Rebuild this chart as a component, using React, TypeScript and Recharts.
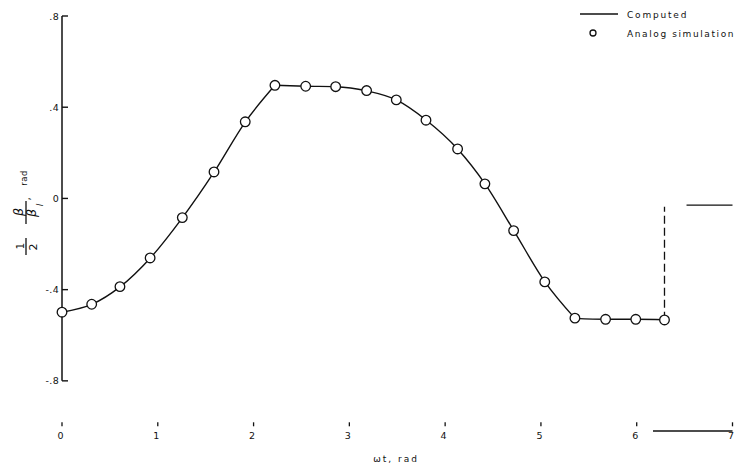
import React from 'react';
import { ComposedChart, Line, Scatter, XAxis, YAxis, Legend, Label } from 'recharts';

// ωt, rad
const wtValues = [0, 0.31, 0.605, 0.92, 1.256, 1.587, 1.913, 2.223, 2.544, 2.857, 3.18, 3.49, 3.8, 4.13, 4.415, 4.715, 5.04, 5.355, 5.675, 5.99, 6.29];
// Analog simulation (circles)
const analogValues = [-0.499, -0.464, -0.387, -0.261, -0.084, 0.116, 0.336, 0.496, 0.492, 0.49, 0.473, 0.432, 0.343, 0.217, 0.064, -0.141, -0.366, -0.525, -0.53, -0.53, -0.533];
// Computed curve, in its three smooth pieces (rise, fall, low dwell)
const riseX = [0, 0.31, 0.605, 0.92, 1.256, 1.587, 1.913, 2.223];
const riseY = [-0.499, -0.465, -0.388, -0.262, -0.085, 0.115, 0.335, 0.496];
const fallX = [2.223, 2.544, 2.857, 3.18, 3.49, 3.8, 4.13, 4.415, 4.715, 5.04, 5.355];
const fallY = [0.496, 0.492, 0.49, 0.472, 0.432, 0.344, 0.217, 0.065, -0.14, -0.365, -0.526];
const dwellX = [5.355, 5.675, 5.99, 6.29];
const dwellY = [-0.526, -0.53, -0.53, -0.532];
// Jump (dashed) at the end of the cycle
const jumpX = [6.29, 6.29];
const jumpY = [-0.532, -0.036];
// Start of next computed segment
const nextX = [6.52, 7.0];
const nextY = [-0.029, -0.029];
// Fragment of the abscissa line near ωt = 7
const stubX = [6.17, 7.0];
const stubY = [-1.02, -1.02];
// Ordinate axis line
const yAxisLineX = [0, 0];
const yAxisLineY = [-0.8, 0.8];

const xTicks = [0, 1, 2, 3, 4, 5, 6, 7];
const xTickLabels = ['0', '1', '2', '3', '4', '5', '6', '7'];
const yTicks = [-0.8, -0.4, 0, 0.4, 0.8];
const yTickLabels = ['-.8', '-.4', '0', '.4', '.8'];

const toPts = (xs: number[], ys: number[]) => xs.map((x, i) => ({ x, y: ys[i] }));

const analogData = toPts(wtValues, analogValues);
const riseData = toPts(riseX, riseY);
const fallData = toPts(fallX, fallY);
const dwellData = toPts(dwellX, dwellY);
const jumpData = toPts(jumpX, jumpY);
const nextData = toPts(nextX, nextY);
const stubData = toPts(stubX, stubY);
const yAxisData = toPts(yAxisLineX, yAxisLineY);

const INK = '#111111';
const FONT = '"DejaVu Sans", "Liberation Sans", sans-serif';

const renderYTick = (props: any) => {
  const { x, y, payload } = props;
  const idx = yTicks.indexOf(payload.value);
  const label = idx >= 0 ? yTickLabels[idx] : String(payload.value);
  return (
    <g key={`yt-${payload.value}`}>
      <path d={`M${x},${y}H${x + 6}`} stroke={INK} strokeWidth={1.4} fill="none" />
      <text x={x - 3} y={y + 3.5} textAnchor="end" fontFamily={FONT} fontSize={9.5} fill={INK} letterSpacing={0.3}>
        {label}
      </text>
    </g>
  );
};

const renderXTick = (props: any) => {
  const { x, y, payload } = props;
  const idx = xTicks.indexOf(payload.value);
  const label = idx >= 0 ? xTickLabels[idx] : String(payload.value);
  return (
    <g key={`xt-${payload.value}`}>
      <path d={`M${x},${y - 11}V${y - 7}`} stroke={INK} strokeWidth={1.3} fill="none" />
      <text x={x - 1.5} y={y + 5.5} textAnchor="middle" fontFamily={FONT} fontSize={9.5} fill={INK}>
        {label}
      </text>
    </g>
  );
};

const XTitle = () => (
  <text x={396} y={462} textAnchor="middle" fontFamily={FONT} fontSize={9} fill={INK} letterSpacing={2}>
    ωt, rad
  </text>
);

const YTitle = () => (
  <g transform="translate(26,220) rotate(-90)" fontFamily={FONT} fill={INK}>
    <text x={-26} y={-2} textAnchor="middle" fontSize={10}>1</text>
    <line x1={-35} x2={-18} y1={0} y2={0} stroke={INK} strokeWidth={1.3} />
    <text x={-27} y={10.5} textAnchor="middle" fontSize={11}>2</text>
    <text x={8} y={-3} textAnchor="middle" fontSize={12.5} fontStyle="italic">β</text>
    <line x1={-4} x2={19} y1={0} y2={0} stroke={INK} strokeWidth={1.3} />
    <text x={7} y={10} textAnchor="middle" fontSize={12.5} fontStyle="italic">β</text>
    <text x={15} y={17} textAnchor="middle" fontSize={9} fontStyle="italic">l</text>
    <text x={21} y={4} textAnchor="middle" fontSize={10}>,</text>
    <text x={42} y={1} textAnchor="middle" fontSize={8.5} letterSpacing={0.5}>rad</text>
  </g>
);

const LegendBox = () => (
  <svg width={735} height={46} style={{ position: 'absolute', left: 0, top: 0, overflow: 'visible' }}>
    <line x1={580} x2={618} y1={14} y2={14} stroke={INK} strokeWidth={1.3} />
    <text x={627} y={17.5} fontFamily={FONT} fontSize={9} fill={INK} letterSpacing={1.8}>Computed</text>
    <circle cx={593} cy={33} r={3} fill="#fff" stroke={INK} strokeWidth={1.3} />
    <text x={627} y={36.5} fontFamily={FONT} fontSize={9} fill={INK} letterSpacing={1.6}>Analog simulation</text>
  </svg>
);

const Circle = (props: any) => {
  const { cx, cy } = props;
  return <circle cx={cx} cy={cy} r={4.8} fill="#fff" stroke={INK} strokeWidth={1.3} />;
};

export default function App() {
  return (
    <div style={{ position: 'absolute', left: 0, top: 0, width: 735, height: 466, background: '#fff' }}>
      <ComposedChart width={735} height={466} margin={{ top: 16, right: 2.5, left: 0, bottom: 2.7 }}>
        <XAxis
          dataKey="x"
          type="number"
          domain={[0, 7]}
          ticks={xTicks}
          axisLine={false}
          tickLine={false}
          tickSize={0}
          tickMargin={0}
          height={30}
          tick={renderXTick}
          interval={0}
        >
          <Label content={<XTitle />} />
        </XAxis>
        <YAxis
          dataKey="y"
          type="number"
          domain={[-1.03, 0.8]}
          ticks={yTicks}
          axisLine={false}
          tickLine={false}
          tickSize={0}
          tickMargin={0}
          width={62}
          tick={renderYTick}
          interval={0}
        >
          <Label content={<YTitle />} />
        </YAxis>
        <Legend content={<LegendBox />} layout="vertical" align="center" verticalAlign="middle" wrapperStyle={{ position: 'absolute', left: 0, top: 0, width: 735, height: 46 }} />
        <Line data={yAxisData} dataKey="y" stroke={INK} strokeWidth={1.5} dot={false} isAnimationActive={false} legendType="none" />
        <Line data={stubData} dataKey="y" stroke={INK} strokeWidth={1.3} dot={false} isAnimationActive={false} legendType="none" />
        <Line data={riseData} dataKey="y" name="Computed" type="monotone" stroke={INK} strokeWidth={1.4} dot={false} isAnimationActive={false} />
        <Line data={fallData} dataKey="y" type="monotone" stroke={INK} strokeWidth={1.4} dot={false} isAnimationActive={false} legendType="none" />
        <Line data={dwellData} dataKey="y" type="monotone" stroke={INK} strokeWidth={1.4} dot={false} isAnimationActive={false} legendType="none" />
        <Line data={jumpData} dataKey="y" stroke={INK} strokeWidth={1.3} strokeDasharray="8 4" dot={false} isAnimationActive={false} legendType="none" />
        <Line data={nextData} dataKey="y" stroke={INK} strokeWidth={1.3} dot={false} isAnimationActive={false} legendType="none" />
        <Scatter data={analogData} dataKey="y" name="Analog simulation" shape={<Circle />} isAnimationActive={false} />
      </ComposedChart>
    </div>
  );
}
